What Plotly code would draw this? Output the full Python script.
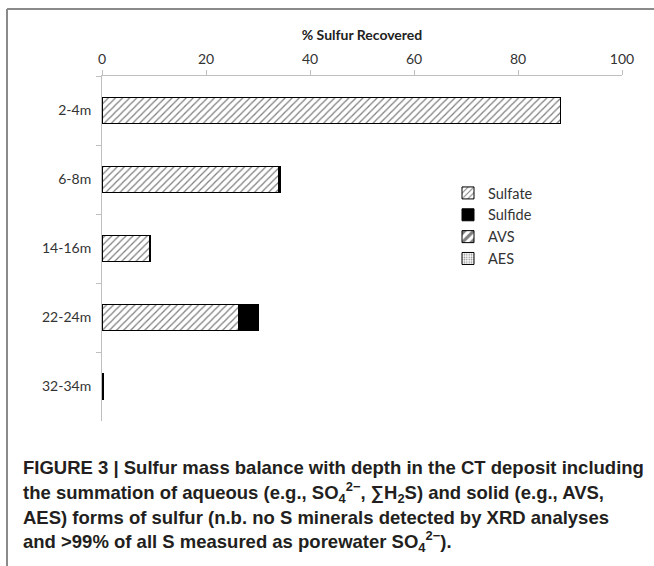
import plotly.graph_objects as go

# ---- data ----
depths = ["2-4m", "6-8m", "14-16m", "22-24m", "32-34m"]
sulfate = [88.2, 34.0, 9.2, 26.3, 0.3]
sulfide = [0.0, 0.4, 0.2, 3.7, 0.0]
avs = [0.0, 0.0, 0.0, 0.0, 0.0]
aes = [0.0, 0.0, 0.0, 0.0, 0.0]
x_ticks = [0, 20, 40, 60, 80, 100]
axis_title = "% Sulfur Recovered"
caption_lines = [
    "<b>FIGURE 3 | Sulfur mass balance with depth in the CT deposit including</b>",
    "<b>the summation of aqueous (e.g., SO<sub>4</sub><sup>2−</sup>, ∑H<sub>2</sub>S) and solid (e.g., AVS,</b>",
    "<b>AES) forms of sulfur (n.b. no S minerals detected by XRD analyses</b>",
    "<b>and >99% of all S measured as porewater SO<sub>4</sub><sup>2−</sup>).</b>",
]

W, H = 654, 566
L, R, T, B = 102, 622, 76, 421


def px(x):
    return (x - L) / (R - L)


def py(y):
    return (B - y) / (B - T)


fig = go.Figure()
line = dict(color="black", width=1)
fig.add_trace(go.Bar(y=depths, x=sulfate, name="Sulfate", orientation="h",
                     marker=dict(color="white", line=line,
                                 pattern=dict(shape="/", fgcolor="black", bgcolor="white",
                                              size=5, solidity=0.25))))
fig.add_trace(go.Bar(y=depths, x=sulfide, name="Sulfide", orientation="h",
                     marker=dict(color="black", line=line)))
fig.add_trace(go.Bar(y=depths, x=avs, name="AVS", orientation="h",
                     marker=dict(color="white", line=line,
                                 pattern=dict(shape="/", fgcolor="black", bgcolor="white",
                                              size=8, solidity=0.5))))
fig.add_trace(go.Bar(y=depths, x=aes, name="AES", orientation="h",
                     marker=dict(color="white", line=line,
                                 pattern=dict(shape=".", fgcolor="black", bgcolor="white",
                                              size=3, solidity=0.3))))

tickfont = dict(family="Lato", size=14, color="#333333")
fig.update_layout(
    width=W, height=H,
    margin=dict(l=L, r=W - R, t=T, b=H - B, pad=0),
    paper_bgcolor="white", plot_bgcolor="white",
    barmode="stack", bargap=0.61,
    showlegend=True,
    legend=dict(x=px(448), y=py(177), xanchor="left", yanchor="top",
                font=dict(family="Lato", size=14.5, color="#333333"),
                bgcolor="rgba(0,0,0,0)", itemwidth=30, traceorder="normal",
                tracegroupgap=0),
    xaxis=dict(side="top", range=[0, 100], tickvals=x_ticks, showgrid=False,
               zeroline=False, showline=True, linecolor="#bfbfbf", linewidth=1,
               ticks="outside", ticklen=5, tickcolor="#bfbfbf", tickfont=tickfont,
               title=dict(text="<b>" + axis_title + "</b>",
                          font=dict(family="Lato", size=14, color="#222222"), standoff=6)),
    yaxis=dict(type="category", autorange="reversed", showgrid=False, zeroline=False,
               showline=True, linecolor="#bfbfbf", linewidth=1, ticks="outside",
               ticklen=5, tickcolor="#bfbfbf", tickson="boundaries", tickfont=tickfont,
               ticklabelstandoff=7),
)

# frame around the figure panel
frame = dict(color="#8a8a8a", width=2)
fig.add_shape(type="line", xref="paper", yref="paper", x0=px(7), x1=px(660),
              y0=py(9), y1=py(9), line=frame)
fig.add_shape(type="line", xref="paper", yref="paper", x0=px(7), x1=px(7),
              y0=py(9), y1=py(580), line=frame)

line_y = [467, 492, 517, 541]
for txt, yy in zip(caption_lines, line_y):
    fig.add_annotation(text=txt, xref="paper", yref="paper", x=px(21), y=py(yy),
                       xanchor="left", yanchor="middle", showarrow=False,
                       font=dict(family="Liberation Sans", size=18.5, color="#231f20"))

fig.write_html("out.html")
